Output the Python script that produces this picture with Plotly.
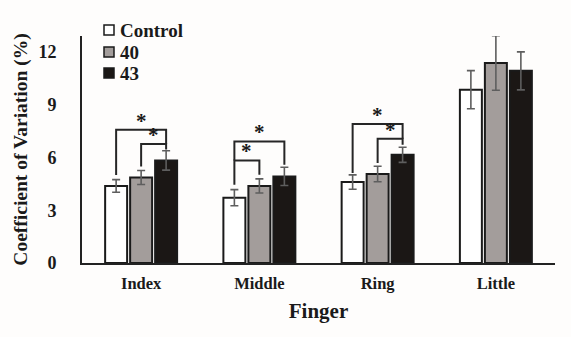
import plotly.graph_objects as go

fingers = ["Index", "Middle", "Ring", "Little"]
series_names = ["Control", "40", "43"]
control_vals = [4.38, 3.71, 4.60, 9.85]
control_err = [0.36, 0.46, 0.41, 1.08]
t40_vals = [4.86, 4.38, 5.06, 11.37]
t40_err = [0.40, 0.40, 0.44, 1.55]
t43_vals = [5.83, 4.92, 6.15, 10.92]
t43_err = [0.55, 0.52, 0.43, 1.08]

# significance brackets: (finger index, from series, to series, top, left-leg bottom, right-leg bottom)
brk_group = [0, 0, 1, 1, 2, 2]
brk_from = [0, 1, 0, 0, 0, 1]
brk_to = [2, 2, 2, 1, 2, 2]
brk_top = [7.57, 6.76, 6.91, 5.83, 7.90, 7.06]
brk_left_end = [5.00, 5.49, 5.83, 4.45, 5.11, 5.68]
brk_right_end = [6.76, 6.45, 5.59, 5.02, 7.06, 6.72]
brk_label = ["*", "*", "*", "*", "*", "*"]

colors = ["#ffffff", "#a39d9b", "#1b1715"]
vals = [control_vals, t40_vals, t43_vals]
errs = [control_err, t40_err, t43_err]

FONT = "Liberation Serif"
BARGAP = 0.366
GROUPGAP = 0.12

# plot-area geometry in pixels (for placing the hand-drawn legend)
W, H = 571, 337
ML, MR, MT, MB = 82, 16, 36, 74
PW, PH = W - ML - MR, H - MT - MB

fig = go.Figure()
for name, v, e, c in zip(series_names, vals, errs, colors):
    fig.add_trace(go.Bar(
        x=fingers, y=v, name=name, showlegend=False,
        marker=dict(color=c, line=dict(color="#1a1a1a", width=2)),
        error_y=dict(type="data", array=e, visible=True, color="#5e5e5e", thickness=1.6, width=4),
    ))

slot = (1 - BARGAP) / 3
for g, a, b, top, le, re, lab in zip(brk_group, brk_from, brk_to, brk_top, brk_left_end, brk_right_end, brk_label):
    xa = g + (a - 1) * slot
    xb = g + (b - 1) * slot
    fig.add_shape(type="path", xref="x", yref="y",
                  path=f"M {xa},{le} L {xa},{top} L {xb},{top} L {xb},{re}",
                  line=dict(color="#262626", width=2))
    fig.add_annotation(x=(xa + xb) / 2, y=top, xref="x", yref="y", text=lab,
                       showarrow=False, yanchor="bottom", yshift=-5,
                       font=dict(family=FONT, size=21, color="#1a1a1a", weight="bold"))

# legend (squares + labels)
leg_x_px = 104
leg_rows_px = [30, 52, 73]
for name, c, ry in zip(series_names, colors, leg_rows_px):
    x0 = (leg_x_px - ML) / PW
    x1 = (leg_x_px + 10 - ML) / PW
    y0 = (H - MB - ry - 5) / PH
    y1 = (H - MB - ry + 5) / PH
    fig.add_shape(type="rect", xref="paper", yref="paper", x0=x0, x1=x1, y0=y0, y1=y1,
                  fillcolor=c, line=dict(color="#1a1a1a", width=1.5))
    fig.add_annotation(x=(leg_x_px + 14 - ML) / PW, y=(H - MB - ry) / PH, xref="paper", yref="paper",
                       text=name, showarrow=False, xanchor="left", yanchor="middle",
                       font=dict(family=FONT, size=19, color="#1a1a1a", weight="bold"))

fig.update_layout(
    width=W, height=H,
    margin=dict(l=ML, r=MR, t=MT, b=MB),
    paper_bgcolor="#fefdfc", plot_bgcolor="#fefdfc",
    barmode="group", bargap=BARGAP, bargroupgap=GROUPGAP,
    font=dict(family=FONT, color="#1a1a1a", weight="bold"),
    showlegend=False,
    xaxis=dict(
        showline=True, linecolor="#222222", linewidth=2,
        ticks="outside", ticklen=4, tickcolor="rgba(0,0,0,0)",
        tickfont=dict(family=FONT, size=16.5, weight="bold"),
        title=dict(text="Finger", font=dict(family=FONT, size=21, weight="bold"), standoff=12),
        range=[-0.5, 3.5], showgrid=False, zeroline=False,
    ),
    yaxis=dict(
        showline=True, linecolor="#222222", linewidth=2,
        range=[0, 12.9], tickvals=[0, 3, 6, 9, 12],
        ticks="", ticklabelstandoff=20,
        tickfont=dict(family=FONT, size=18, weight="bold"),
        title=dict(text="Coefficient of Variation (%)", font=dict(family=FONT, size=19.5, weight="bold"), standoff=6),
        showgrid=False, zeroline=False,
    ),
)

fig.write_html("out.html")
